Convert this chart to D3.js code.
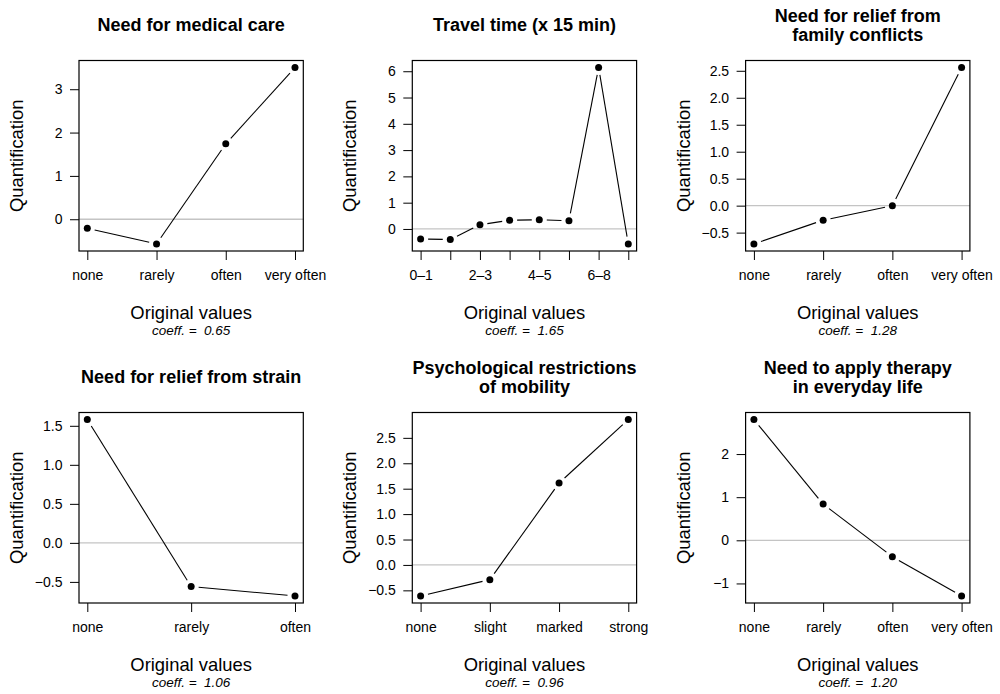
<!DOCTYPE html>
<html>
<head>
<meta charset="utf-8">
<script src="https://cdn.jsdelivr.net/npm/d3@7"></script>
<style>
  html, body { margin: 0; padding: 0; background: #fff; }
  svg { display: block; font-family: "Liberation Sans", Arial, Helvetica, sans-serif; }
  .pre { white-space: pre; }
</style>
</head>
<body>
<svg id="chart" width="1000" height="694"></svg>
<script>
// ---- data ----
const titles = [
  ["Need for medical care"],
  ["Travel time (x 15 min)"],
  ["Need for relief from", "family conflicts"],
  ["Need for relief from strain"],
  ["Psychological restrictions", "of mobility"],
  ["Need to apply therapy", "in everyday life"]
];
const medicalCats  = ["none", "rarely", "often", "very often"];
const travelCats   = ["0\u20131", "", "2\u20133", "", "4\u20135", "", "6\u20138", ""];
const familyCats   = ["none", "rarely", "often", "very often"];
const strainCats   = ["none", "rarely", "often"];
const mobilityCats = ["none", "slight", "marked", "strong"];
const therapyCats  = ["none", "rarely", "often", "very often"];

const medicalVals  = [-0.21, -0.57, 1.74, 3.50];
const travelVals   = [-0.38, -0.40, 0.16, 0.33, 0.35, 0.31, 6.14, -0.57];
const familyVals   = [-0.71, -0.27, 0.00, 2.56];
const strainVals   = [1.58, -0.56, -0.68];
const mobilityVals = [-0.61, -0.29, 1.61, 2.86];
const therapyVals  = [2.80, 0.84, -0.38, -1.29];

const medicalTicks  = [0, 1, 2, 3];
const travelTicks   = [0, 1, 2, 3, 4, 5, 6];
const familyTicks   = [-0.5, 0, 0.5, 1, 1.5, 2, 2.5];
const strainTicks   = [-0.5, 0, 0.5, 1, 1.5];
const mobilityTicks = [-0.5, 0, 0.5, 1, 1.5, 2, 2.5];
const therapyTicks  = [-1, 0, 1, 2];

const coeffs = ["0.65", "1.65", "1.28", "1.06", "0.96", "1.20"];

const xLabel = "Original values";
const yLabel = "Quantification";

const panels = [
  { title: titles[0], cats: medicalCats,  vals: medicalVals,  ticks: medicalTicks,  coeff: coeffs[0] },
  { title: titles[1], cats: travelCats,   vals: travelVals,   ticks: travelTicks,   coeff: coeffs[1] },
  { title: titles[2], cats: familyCats,   vals: familyVals,   ticks: familyTicks,   coeff: coeffs[2] },
  { title: titles[3], cats: strainCats,   vals: strainVals,   ticks: strainTicks,   coeff: coeffs[3] },
  { title: titles[4], cats: mobilityCats, vals: mobilityVals, ticks: mobilityTicks, coeff: coeffs[4] },
  { title: titles[5], cats: therapyCats,  vals: therapyVals,  ticks: therapyTicks,  coeff: coeffs[5] }
];

// ---- layout ----
const svg = d3.select("#chart");
const panelW = 333.3;
const rowOffset = 352;
const box = { left: 79, right: 30, top: 60.5, bottom: 251 };
const gap = 7.5;
const fmtMinus = s => s.replace("-", "\u2212");

panels.forEach((p, i) => {
  const col = i % 3, row = Math.floor(i / 3);
  const g = svg.append("g").attr("transform", `translate(${col * panelW},${row * rowOffset})`);
  const x0 = box.left, x1 = panelW - box.right, y0 = box.top, y1 = box.bottom;
  const n = p.vals.length;
  const idx = d3.range(1, n + 1);
  const padX = 0.04 * (n - 1);
  const x = d3.scaleLinear().domain([1 - padX, n + padX]).range([x0, x1]);
  const [mn, mx] = d3.extent(p.vals);
  const padY = 0.04 * (mx - mn);
  const y = d3.scaleLinear().domain([mn - padY, mx + padY]).range([y1, y0]);

  const isDec = p.ticks.some(t => !Number.isInteger(t));
  const fmt = t => fmtMinus(isDec ? t.toFixed(1) : String(t));

  // zero reference line
  g.append("line")
    .attr("x1", x0).attr("x2", x1)
    .attr("y1", y(0)).attr("y2", y(0))
    .attr("stroke", "#c4c4c4").attr("stroke-width", 1.3);

  // y axis
  const yAxis = d3.axisLeft(y).tickValues(p.ticks).tickFormat(fmt).tickSize(9).tickPadding(7.5);
  const ya = g.append("g").attr("transform", `translate(${x0},0)`).call(yAxis);
  ya.select(".domain").remove();
  ya.selectAll("text").attr("font-size", 14).attr("fill", "#000")
    .attr("font-family", "Liberation Sans, Arial, sans-serif");
  ya.selectAll("line").attr("stroke", "#000");

  // x axis
  const xAxis = d3.axisBottom(x).tickValues(idx).tickFormat(d => p.cats[d - 1]).tickSize(9).tickPadding(10);
  const xa = g.append("g").attr("transform", `translate(0,${y1})`).call(xAxis);
  xa.select(".domain").remove();
  xa.selectAll("text").attr("font-size", 14).attr("fill", "#000")
    .attr("font-family", "Liberation Sans, Arial, sans-serif");
  xa.selectAll("line").attr("stroke", "#000");

  // box
  g.append("rect")
    .attr("x", x0).attr("y", y0)
    .attr("width", x1 - x0).attr("height", y1 - y0)
    .attr("fill", "none").attr("stroke", "#000").attr("stroke-width", 1.2);

  // line segments with gaps (type = "b")
  const pts = p.vals.map((v, k) => [x(k + 1), y(v)]);
  const segs = [];
  for (let k = 0; k < pts.length - 1; k++) {
    const [ax, ay] = pts[k], [bx, by] = pts[k + 1];
    const dx = bx - ax, dy = by - ay, d = Math.hypot(dx, dy);
    if (d > 2 * gap) {
      const ux = dx / d, uy = dy / d;
      segs.push([ax + ux * gap, ay + uy * gap, bx - ux * gap, by - uy * gap]);
    }
  }
  g.selectAll("line.seg").data(segs).join("line")
    .attr("class", "seg")
    .attr("x1", s => s[0]).attr("y1", s => s[1])
    .attr("x2", s => s[2]).attr("y2", s => s[3])
    .attr("stroke", "#000").attr("stroke-width", 1.1);

  g.selectAll("circle.pt").data(p.vals).join("circle")
    .attr("class", "pt")
    .attr("cx", (v, k) => x(k + 1)).attr("cy", v => y(v))
    .attr("r", 3.5).attr("fill", "#000");

  // title
  const cx = (x0 + x1) / 2;
  const tBase = p.title.length === 1 ? [31] : [21.8, 40.8];
  p.title.forEach((t, k) => {
    g.append("text").attr("x", cx).attr("y", tBase[k])
      .attr("text-anchor", "middle").attr("font-size", 18).attr("font-weight", "bold")
      .attr("fill", "#000").text(t);
  });

  // axis labels
  g.append("text").attr("x", cx).attr("y", 318.5)
    .attr("text-anchor", "middle").attr("font-size", 18.4).attr("fill", "#000").text(xLabel);
  g.append("text")
    .attr("transform", `translate(23,${(y0 + y1) / 2}) rotate(-90)`)
    .attr("text-anchor", "middle").attr("font-size", 18.4).attr("fill", "#000").text(yLabel);

  // coefficient
  g.append("text").attr("class", "pre").attr("x", cx).attr("y", 334.5)
    .attr("text-anchor", "middle").attr("font-size", 13.5).attr("font-style", "italic")
    .attr("fill", "#000").text("coeff. =  " + p.coeff);
});
</script>
</body>
</html>
